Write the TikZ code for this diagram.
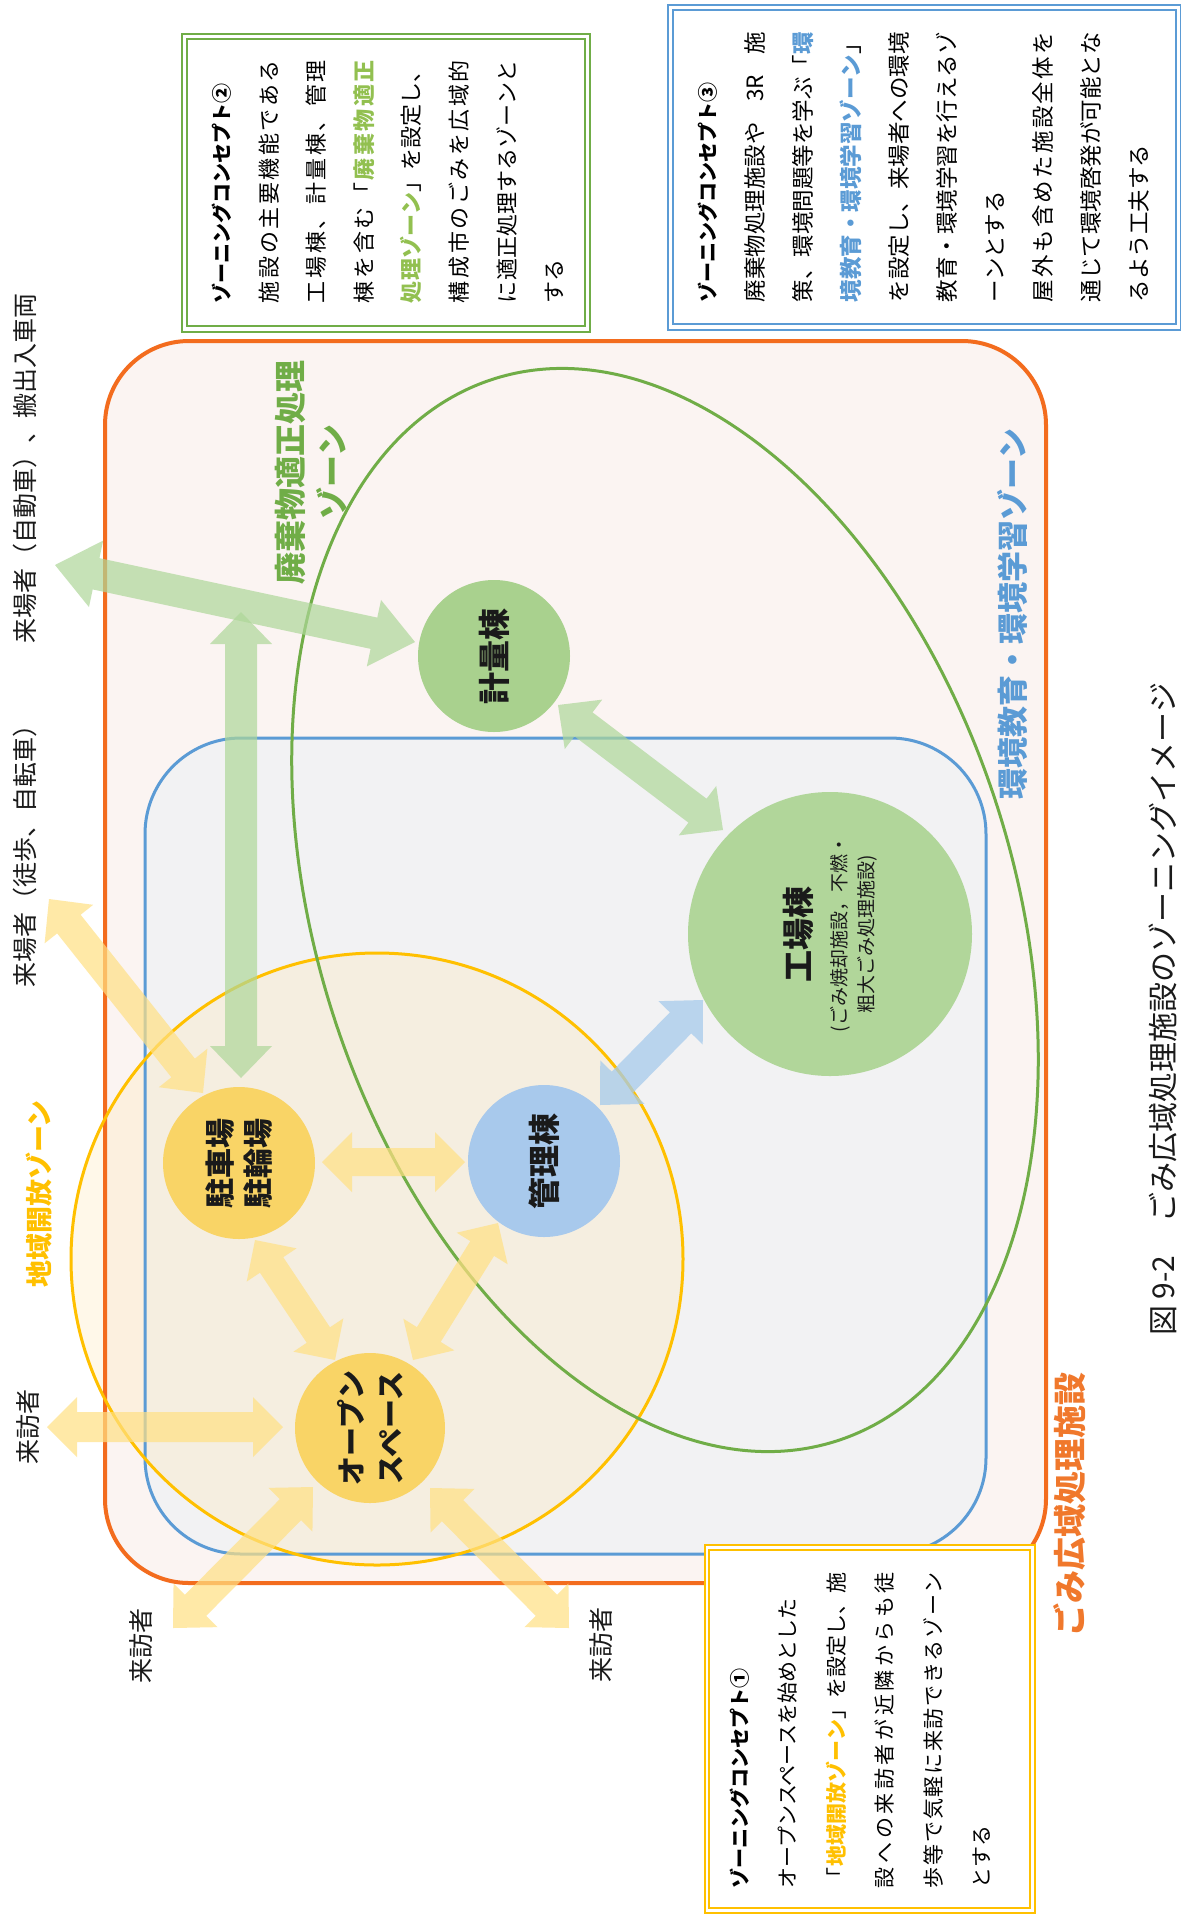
\documentclass[tikz,border=0pt]{standalone}
\usepackage{fontspec}
\setmainfont{Noto Sans CJK JP}
\usetikzlibrary{calc}
\definecolor{zorange}{HTML}{F36C1E}
\definecolor{zorangeT}{HTML}{F0782C}
\definecolor{zpink}{HTML}{FBF4F2}
\definecolor{zblue}{HTML}{5B9BD5}
\definecolor{zgray}{HTML}{F2F2F3}
\definecolor{zyellow}{HTML}{FFC000}
\definecolor{zyfill}{HTML}{FFE6A8}
\definecolor{zgreen}{HTML}{70AD47}
\definecolor{zgreenT}{HTML}{92C050}
\definecolor{zkeiF}{HTML}{A9D18E}
\definecolor{zkouF}{HTML}{B1D69A}
\definecolor{zkanF}{HTML}{A8C9EC}
\definecolor{zchuF}{HTML}{F9D466}
\definecolor{zgA}{HTML}{AED799}
\definecolor{zyA}{HTML}{FFE083}
\definecolor{zbA}{HTML}{A6CBEC}
\definecolor{ztext}{HTML}{1A1A1A}

\ExplSyntaxOn
\bool_new:N \l_zspr_first_bool
\cs_new_protected:Npn \zspr_item:n #1
  {
    \bool_if:NF \l_zspr_first_bool { \hfil }
    \bool_set_false:N \l_zspr_first_bool
    #1
  }
\NewDocumentCommand \spr { m m }
  {
    \hbox_to_wd:nn { #1 }
      {
        \bool_set_true:N \l_zspr_first_bool
        \tl_map_inline:nn { #2 }
          {
            \tl_if_single_token:nTF { ##1 }
              { \token_if_cs:NTF ##1 { ##1 } { \zspr_item:n { ##1 } } }
              { \zspr_item:n { ##1 } }
          }
      }
  }
\ExplSyntaxOff
\newcommand\zG{\color{zgreenT}\bfseries}
\newcommand\zB{\color{zblue}\bfseries}
\newcommand\zY{\color{zyellow}\bfseries}
\newcommand\zN{\color{black}\mdseries}

% #1 style, #2 end A, #3 end B, #4 shaft half width, #5 head half width, #6 head length
\newcommand\fatarrow[6]{%
  \coordinate (faA) at (#2);
  \coordinate (faB) at (#3);
  \coordinate (fah1) at ($(faA)!#6!(faB)$);
  \coordinate (fah2) at ($(faB)!#6!(faA)$);
  \fill[#1] (faA) -- ($(fah1)!#5!90:(faB)$) -- ($(fah1)!#4!90:(faB)$)
    -- ($(fah2)!#4!-90:(faA)$) -- ($(fah2)!#5!-90:(faA)$) -- (faB)
    -- ($(fah2)!#5!90:(faA)$) -- ($(fah2)!#4!90:(faA)$)
    -- ($(fah1)!#4!-90:(faB)$) -- ($(fah1)!#5!-90:(faB)$) -- cycle;
}

\tikzset{
  bldg/.style={circle, inner sep=0pt, rotate=90, align=center, text=ztext,
    font=\fontsize{16}{19}\selectfont\bfseries},
  lbl/.style={rotate=90, text=ztext, font=\fontsize{12.5}{15}\selectfont},
  zonelbl/.style={rotate=90, align=center, font=\fontsize{16}{21}\selectfont\bfseries},
  garrow/.style={fill=zgA, fill opacity=0.7},
  yarrow/.style={fill=zyA, fill opacity=0.7},
  barrow/.style={fill=zbA, fill opacity=0.75},
  boxtext/.style={rotate=90, anchor=north west, align=left, inner sep=0pt},
}

\begin{document}
\begin{tikzpicture}[x=0.5pt,y=-0.5pt, every node/.style={inner sep=0pt, outer sep=0pt}]
\useasboundingbox (0,0) rectangle (1181,1917);
\fill[white] (0,0) rectangle (1181,1917);

% zone fills
\fill[zpink, rounded corners=42pt] (105,341) rectangle (1046,1583);
\fill[zgray, rounded corners=48pt] (145,738) rectangle (986,1554);
\fill[zyfill, fill opacity=0.25] (377,1259) circle[radius=306];
% zone outlines
\draw[zorange, line width=2pt, rounded corners=42pt] (105,341) rectangle (1046,1583);
\draw[zblue, line width=1.5pt, rounded corners=48pt] (145,738) rectangle (986,1554);
\draw[zyellow, line width=1.5pt] (377,1259) circle[radius=306];
\draw[zgreen, line width=1.5pt, rotate around={18:(665,910)}] (665,910) ellipse[x radius=348, y radius=558];

% buildings
\node[bldg, fill=zkeiF, minimum size=76pt] (kei) at (494,656) {計量棟};
\node[bldg, fill=zkouF, minimum size=142pt, font=\fontsize{9.5}{13.5}\selectfont] (kou) at (830,934)
  {{\fontsize{16}{19}\selectfont\bfseries 工場棟}\\[4.5pt](ごみ焼却施設，不燃・\\粗大ごみ処理施設)};
\node[bldg, fill=zkanF, minimum size=76pt] (kan) at (544,1161) {管理棟};
\node[bldg, fill=zchuF, minimum size=76pt, font=\fontsize{15}{19}\selectfont\bfseries] (chu) at (239,1163) {駐車場\\駐輪場};
\node[bldg, fill=zchuF, minimum size=75pt, font=\fontsize{14.5}{19.5}\selectfont\bfseries] (opn) at (370,1428) {オープン\\スペース};

% free ends of arrows
\coordinate (gout) at (55,565);
\coordinate (gtop) at (241,612);
\coordinate (vout1) at (47,1427);
\coordinate (vout2) at (173,1628);
\coordinate (vout3) at (569,1628);
\coordinate (pout) at (49,899);

% arrows
\fatarrow{garrow}{gout}{$(kei)+(-79,-14)$}{8pt}{17pt}{21pt}
\fatarrow{garrow}{gtop}{$(chu)+(2,-85)$}{8pt}{15.5pt}{16pt}
\fatarrow{garrow}{$(kei)+(64,49)$}{$(kou)+(-107,-104)$}{7.5pt}{15.5pt}{16pt}
\fatarrow{barrow}{$(kan)+(56,-56)$}{$(kou)+(-127,66)$}{7.5pt}{15.5pt}{16pt}
\fatarrow{yarrow}{$(chu)+(83,-1)$}{$(kan)+(-79,1)$}{7pt}{15pt}{15pt}
\fatarrow{yarrow}{$(chu)+(16,77)$}{$(opn)+(-35,-68)$}{7pt}{15pt}{15pt}
\fatarrow{yarrow}{$(kan)+(-46,62)$}{$(opn)+(43,-68)$}{7pt}{15pt}{15pt}
\fatarrow{yarrow}{vout1}{$(opn)+(-87,-1)$}{7.5pt}{15pt}{15pt}
\fatarrow{yarrow}{vout2}{$(opn)+(-57,59)$}{7.5pt}{15.5pt}{16pt}
\fatarrow{yarrow}{vout3}{$(opn)+(60,60)$}{7.5pt}{15.5pt}{16pt}
\fatarrow{yarrow}{pout}{$(chu)+(-36,-70)$}{7.5pt}{15.5pt}{16pt}

% outer labels
\node[lbl] (l1) at (25,468) {来場者（自動車）、搬出入車両};
\node[lbl] (l2) at (25,850) {来場者（徒歩、自転車）};
\node[lbl] (l3) at (28,1427) {来訪者};
\node[lbl] (l5) at (141,1646) {来訪者};
\node[lbl] (l6) at (601,1645) {来訪者};

% zone labels
\node[zonelbl, text=zgreen] (zg) at (311,472) {廃棄物適正処理\\ゾーン};
\node[zonelbl, text=zblue, font=\fontsize{15.5}{19}\selectfont\bfseries] (zb) at (1012,614) {環境教育・環境学習ゾーン};
\node[zonelbl, text=zorangeT, font=\fontsize{16.5}{19}\selectfont\bfseries] (zo) at (1070,1504) {ごみ広域処理施設};
\node[zonelbl, text=zyellow, font=\fontsize{13.5}{16}\selectfont\bfseries] (zy) at (39,1194) {地域開放ゾーン};

% concept box 2
\fill[white] (182,34) rectangle (590,332);
\draw[zgreen, line width=1.2pt] (182,34) rectangle (590,332);
\draw[zgreen, line width=0.6pt] (187,39) rectangle (585,326);
\node[boxtext, font=\fontsize{11}{23.8}\selectfont] (c2) at (212,303) {%
{\fontsize{10}{23.8}\selectfont\bfseries ゾーニングコンセプト②}\\
\spr{121.5pt}{施設の主要機能である}\\
\spr{121.5pt}{工場棟、計量棟、管理}\\
\spr{121.5pt}{棟を含む「\zG 廃棄物適正}\\
\spr{121.5pt}{\zG 処理ゾーン\zN 」を設定し、}\\
\spr{121.5pt}{構成市のごみを広域的}\\
\spr{121.5pt}{に適正処理するゾーンと}\\
する};

% concept box 3
\fill[white] (668,5) rectangle (1181,330);
\draw[zblue, line width=1.2pt] (668,5) rectangle (1181,330);
\draw[zblue, line width=0.6pt] (673,10) rectangle (1176,324);
\node[boxtext, font=\fontsize{11.25}{24}\selectfont] (c3) at (698,302) {%
{\fontsize{10}{24}\selectfont\bfseries ゾーニングコンセプト③}\\
\hbox to 135pt{廃棄物処理施設や\hfil 3R\hfil 施}\\
\spr{135pt}{策、環境問題等を学ぶ「\zB 環}\\
\spr{135pt}{\zB 境教育・環境学習ゾーン\zN 」}\\
\spr{135pt}{を設定し、来場者への環境}\\
\spr{135pt}{教育・環境学習を行えるゾ}\\
ーンとする\\
\spr{135pt}{屋外も含めた施設全体を}\\
\spr{135pt}{通じて環境啓発が可能とな}\\
るよう工夫する};

% concept box 1
\fill[white] (705,1545) rectangle (1035,1913);
\draw[zyellow, line width=1.2pt] (705,1545) rectangle (1035,1913);
\draw[zyellow, line width=0.6pt] (709,1550) rectangle (1030,1908);
\node[boxtext, font=\fontsize{10.5}{24.2}\selectfont] (c1) at (730,1888) {%
{\fontsize{10}{24.2}\selectfont\bfseries ゾーニングコンセプト①}\\
オープンスペースを始めとした\\
\spr{158pt}{「\zY 地域開放ゾーン\zN 」を設定し、施}\\
\spr{158pt}{設への来訪者が近隣からも徒}\\
\spr{158pt}{歩等で気軽に来訪できるゾーン}\\
とする};

% caption
\node[rotate=90, anchor=east, text=ztext, font=\fontsize{15}{18}\selectfont] (cap) at (1163,683)
  {図 9-2\hspace{1.1em}ごみ広域処理施設のゾーニングイメージ};
\end{tikzpicture}
\end{document}
